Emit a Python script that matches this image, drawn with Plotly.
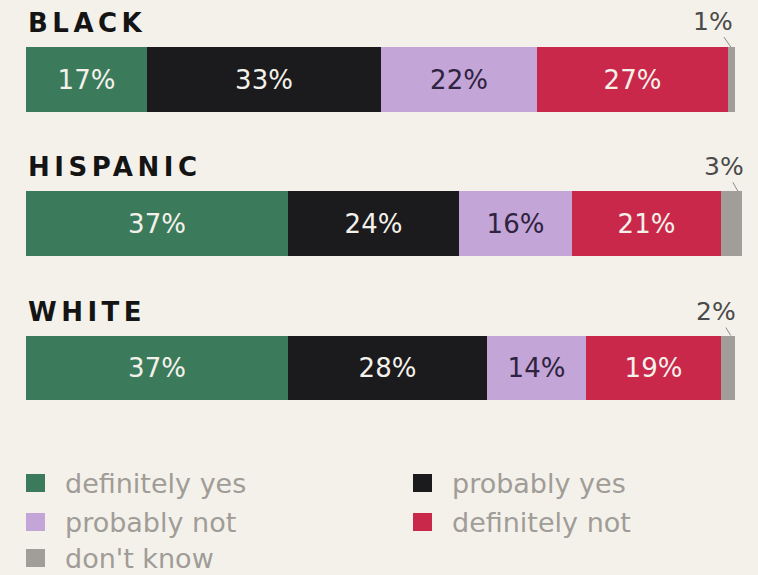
import plotly.graph_objects as go

groups = ["BLACK", "HISPANIC", "WHITE"]
series = ["definitely yes", "probably yes", "probably not", "definitely not", "don't know"]
values = {
    "definitely yes": [17, 37, 37],
    "probably yes": [33, 24, 28],
    "probably not": [22, 16, 14],
    "definitely not": [27, 21, 19],
    "don't know": [1, 3, 2],
}
colors = ["#3b7b5c", "#1b1a1d", "#c3a5d7", "#c9284a", "#a19e99"]
label_colors = ["#f4f1ea", "#f4f1ea", "#2e2340", "#f4f1ea", "#f4f1ea"]

BG = "#f4f1ea"
W, H = 758, 575
PLOT_BOTTOM = 440  # pixel

ypos = list(range(len(groups)))
fig = go.Figure()
for s, c, lc in zip(series, colors, label_colors):
    vals = values[s]
    txt = ["" if s == "don't know" else f"{v}%" for v in vals]
    fig.add_trace(go.Bar(
        y=ypos, x=vals, orientation="h", name=s,
        marker=dict(color=c, line=dict(width=0)),
        width=0.45,
        text=txt, textposition="inside", insidetextanchor="middle",
        textangle=0, constraintext="none",
        textfont=dict(family="DejaVu Sans", size=26, color=lc),
        hoverinfo="skip", showlegend=False,
    ))

annotations = []
# group titles
for i, g in enumerate(groups):
    annotations.append(dict(
        x=0, xref="paper", y=i - 0.39, yref="y", xanchor="left", yanchor="middle",
        text=f'<span style="letter-spacing:4.5px">{g}</span>', showarrow=False,
        font=dict(family="DejaVu Sans", size=26, color="#141414", weight="bold"),
    ))
# don't know callouts
offsets = [(-18, -26), (-14, -25), (-15, -24)]
for i, g in enumerate(groups):
    total = sum(values[s][i] for s in series)
    dk = values["don't know"][i]
    ax, ay = offsets[i]
    annotations.append(dict(
        x=total - 0.6, y=i - 0.225, xref="x", yref="y",
        text=f"{dk}%", showarrow=True, arrowhead=0, arrowwidth=1,
        arrowcolor="#8a8a8a", ax=ax, ay=ay, standoff=0,
        font=dict(family="DejaVu Sans", size=25, color="#4a4a4a"),
    ))

# manual legend (two columns)
shapes = []
leg_cols_px = [26, 413]
leg_rows_px = [483, 522, 558]
PW = W - 26 - 13
for k, (s, c) in enumerate(zip(series, colors)):
    col = k % 2
    row = k // 2
    xpx = leg_cols_px[col]
    ypx = leg_rows_px[row]
    x0 = (xpx - 26) / PW
    x1 = (xpx + 19 - 26) / PW
    y0 = (PLOT_BOTTOM - (ypx + 9)) / PLOT_BOTTOM
    y1 = (PLOT_BOTTOM - (ypx - 9)) / PLOT_BOTTOM
    shapes.append(dict(type="rect", xref="paper", yref="paper",
                       x0=x0, x1=x1, y0=y0, y1=y1,
                       fillcolor=c, line=dict(width=0)))
    annotations.append(dict(
        x=(xpx + 37 - 26) / PW, y=(PLOT_BOTTOM - ypx) / PLOT_BOTTOM,
        xref="paper", yref="paper", xanchor="left", yanchor="middle",
        text=s, showarrow=False,
        font=dict(family="DejaVu Sans", size=27, color="#a09c97"),
    ))

fig.update_layout(
    width=W, height=H,
    barmode="stack",
    bargap=0,
    paper_bgcolor=BG, plot_bgcolor=BG,
    margin=dict(l=26, r=13, t=0, b=H - PLOT_BOTTOM, pad=0),
    xaxis=dict(range=[0, 101.4], visible=False, fixedrange=True),
    yaxis=dict(range=[2.499, -0.551], visible=False, fixedrange=True),
    annotations=annotations,
    shapes=shapes,
    showlegend=False,
)

fig.write_html(
    "out.html",
    config={"displayModeBar": False},
    post_script="document.body.style.margin='0';document.body.style.padding='0';"
                "document.body.style.background='#f4f1ea';"
                "document.body.style.overflow='hidden';",
)
